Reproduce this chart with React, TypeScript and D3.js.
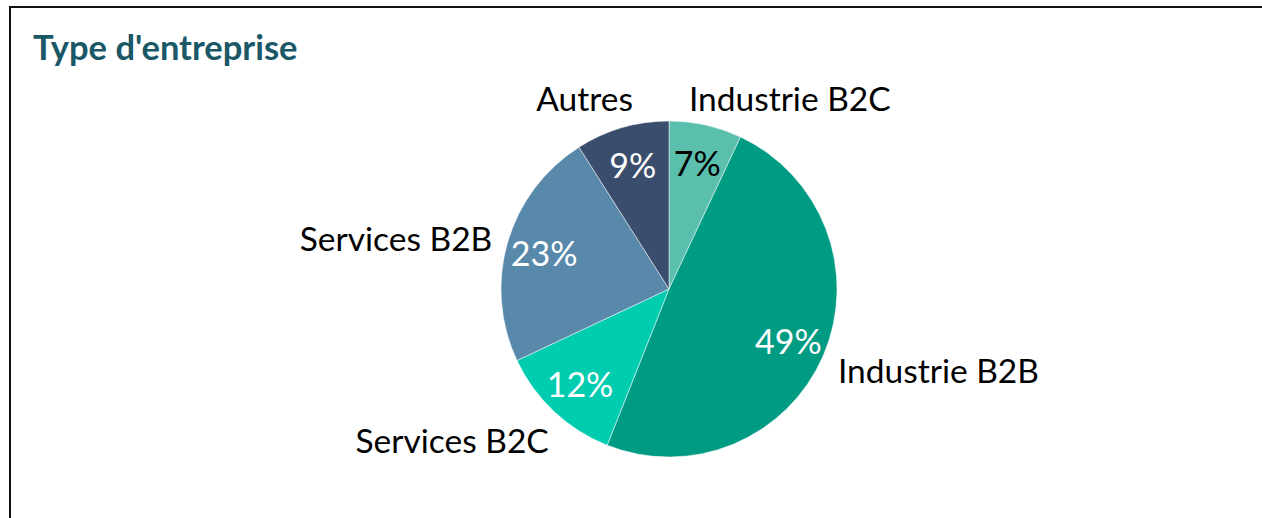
import { arc, pie } from 'd3'

const width = 1262
const height = 518

const categories = [
  'Industrie B2C',
  'Industrie B2B',
  'Services B2C',
  'Services B2B',
  'Autres',
]
const values = [7, 49, 12, 23, 9]
const colors = ['#5bbfae', '#009b83', '#00ccb0', '#5889aa', '#3a4d6c']
const pctColors = ['#000000', '#ffffff', '#ffffff', '#ffffff', '#ffffff']

// nudges for outside labels (Excel "best fit" placement)
const labelNudge = [
  { dx: -20, dy: -12 },
  { dx: 1, dy: 8 },
  { dx: 5, dy: 18 },
  { dx: -1, dy: 0 },
  { dx: 15, dy: -15 },
]

const cx = 669
const cy = 289
const radius = 168
const font = 'Lato, Carlito, Calibri, sans-serif'

const App = () => {
  const slices = pie<number>().sort(null)(values)
  const sliceArc = arc<any>().innerRadius(0).outerRadius(radius)
  const pctArc = arc<any>().innerRadius(130).outerRadius(130)
  const outerArc = arc<any>().innerRadius(radius + 15).outerRadius(radius + 15)

  return (
    <svg
      width={width}
      height={height}
      style={{ position: 'absolute', left: 0, top: 0, background: '#fff' }}
    >
      <path d={`M10,${height} V7 H${width}`} fill="none" stroke="#111" strokeWidth={2} />
      <text x={33} y={60} fontFamily={font} fontWeight={700} fontSize={34.5} fill="#1a5867">
        Type d'entreprise
      </text>
      <g transform={`translate(${cx},${cy})`}>
        {slices.map((s, i) => (
          <path key={i} d={sliceArc(s) || ''} fill={colors[i]} stroke="#ffffff" strokeWidth={0.5} />
        ))}
        {slices.map((s, i) => {
          const [x, y] = pctArc.centroid(s)
          return (
            <text
              key={i}
              x={x}
              y={y}
              textAnchor="middle"
              dominantBaseline="central"
              fontFamily={font}
              fontSize={34}
              fill={pctColors[i]}
            >
              {values[i]}%
            </text>
          )
        })}
        {slices.map((s, i) => {
          const [x, y] = outerArc.centroid(s)
          const mid = (s.startAngle + s.endAngle) / 2
          const right = mid < Math.PI
          return (
            <text
              key={i}
              x={x + labelNudge[i].dx}
              y={y + labelNudge[i].dy}
              textAnchor={right ? 'start' : 'end'}
              dominantBaseline="central"
              fontFamily={font}
              fontSize={33.5}
              fill="#000"
            >
              {categories[i]}
            </text>
          )
        })}
      </g>
    </svg>
  )
}

export default App
